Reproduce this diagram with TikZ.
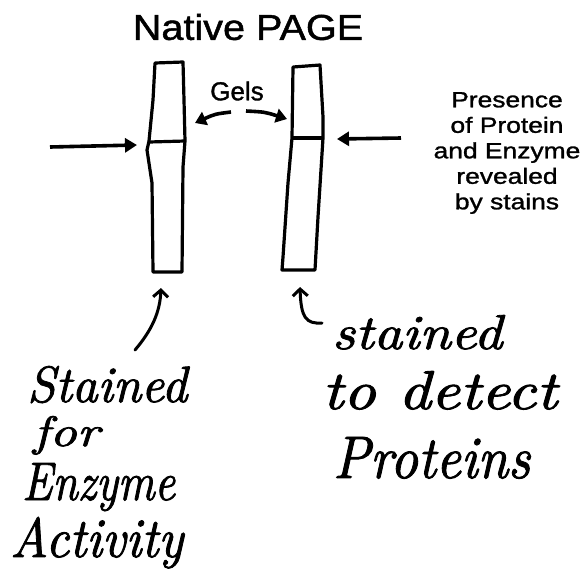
\documentclass[tikz,border=0pt]{standalone}
\usepackage{fontspec}
\usepackage{graphicx}
\setsansfont{Liberation Sans}
\newfontfamily\heavysans[FakeBold=1.2]{Liberation Sans}
\newfontfamily\handfont[Extension=.otf,FakeBold=1.6]{lmroman10-italic}
\usetikzlibrary{arrows.meta}
\tikzset{
  gel/.style={line width=3.2pt, line join=round},
  band/.style={line width=3.2pt},
  pointer/.style={line width=3.6pt, -{Triangle[length=12pt,width=14pt]}},
  gelpointer/.style={line width=3.6pt, -{Triangle[length=11pt,width=14pt]}},
  hand/.style={line width=3pt, line cap=round, -{Straight Barb[length=7pt,width=15pt,line width=3pt]}},
  title/.style={font=\heavysans\fontsize{36}{40}\selectfont, xscale=1.1, transform shape},
  label/.style={font=\heavysans\fontsize{26}{30}\selectfont},
  notes/.style={font=\heavysans\fontsize{22}{25.5}\selectfont, align=center, xscale=1.2, transform shape},
  script/.style={inner sep=0pt, anchor=base west, font=\handfont\fontsize{40}{44}\selectfont}
}
\begin{document}
\begin{tikzpicture}[x=1pt,y=-1pt]
\useasboundingbox (0,0) rectangle (587,571);
\fill[white] (0,0) rectangle (587,571);
% title
\node[title] (ttl) at (248,27) {Native PAGE};
% gel 1
\draw[gel] (155,63) -- (183,62) -- (184,100) -- (185,141) -- (183,167) -- (182,272)
  -- (153,272) -- (152,183) -- (147,150) -- (149,141) -- (153,100) -- cycle;
\draw[band] (149,142) -- (185,141);
% gel 2
\draw[gel] (293,67) -- (320,65) -- (323,117) -- (323,138) -- (318,217) -- (315,270)
  -- (282,270) -- (283,257) -- (288,183) -- (292,138) -- cycle;
\draw[band] (292,138) -- (323,138);
% anchors on gels
\coordinate (g1side) at (195,123);
\coordinate (g2side) at (287,119);
\coordinate (g1band) at (137,145);
\coordinate (g2band) at (337,139);
\coordinate (g1bot) at (161,288);
\coordinate (g2bot) at (300,287);
% Gels label
\node[label] (gels) at (237,91) {Gels};
\draw[gelpointer] (231,112) .. controls (215,114) .. (g1side);
\draw[gelpointer] (246,111) .. controls (265,112) .. (g2side);
% side arrows
\coordinate (la) at (50,147);
\coordinate (ra) at (401,138);
\draw[pointer] (la) -- (g1band);
\draw[pointer] (ra) -- (g2band);
% right note
\node[notes] (note) at (507,153) {Presence\\of Protein\\and Enzyme\\revealed\\by stains};
% handwritten labels
\node[script] (s1) at (27,402) {\resizebox{160pt}{36pt}{Stained}};
\node[script] (s2) at (33,446) {\resizebox{66pt}{30pt}{for}};
\node[script] (s3) at (22,500) {\resizebox{153pt}{37pt}{Enzyme}};
\node[script] (s4) at (10,557) {\resizebox{173pt}{40pt}{Activity}};
\node[script] (r1) at (332,349) {\resizebox{170pt}{34pt}{stained}};
\node[script] (r2) at (322,409) {\resizebox{235pt}{38pt}{to detect}};
\node[script] (r3) at (333,478) {\resizebox{197pt}{41pt}{Proteins}};
% handwritten arrows
\coordinate (t1) at (135,350);
\coordinate (t2) at (322,323);
\draw[hand] (t1) .. controls (152,330) and (160,312) .. (g1bot);
\draw[hand] (t2) .. controls (306,324) and (301,318) .. (g2bot);
\end{tikzpicture}
\end{document}
